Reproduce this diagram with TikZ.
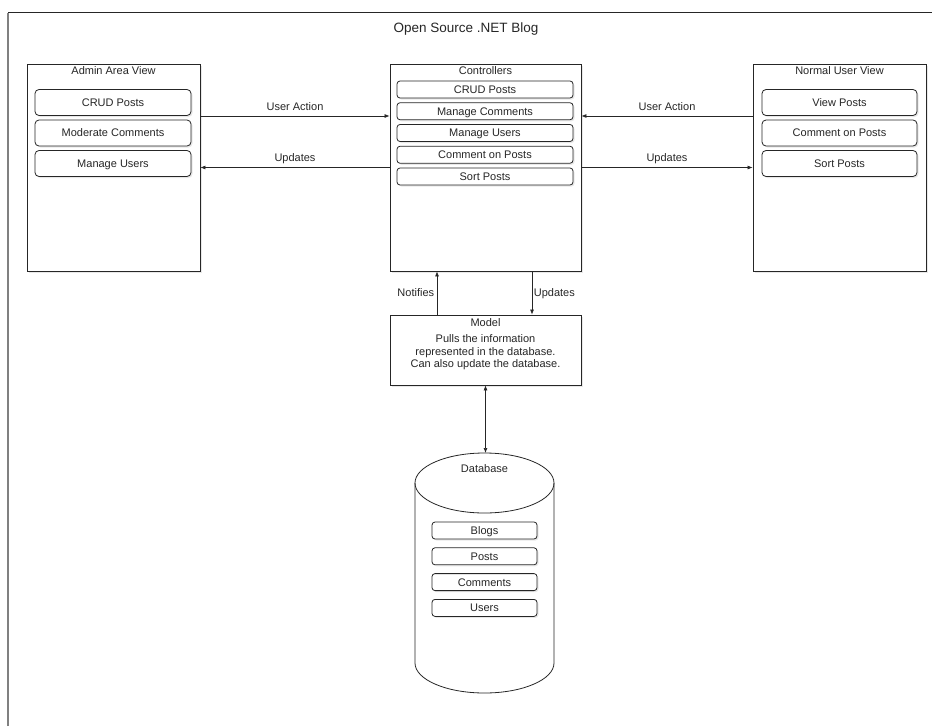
\documentclass[tikz,border=0pt]{standalone}
\usepackage{fontspec}
\setmainfont{Liberation Sans}
\usetikzlibrary{arrows.meta,shadows}
\tikzset{
  >={Latex[length=5pt,width=4pt]},
  lbl/.style={text height=9.5pt,text depth=1.6pt,inner sep=1pt},
  box/.style={draw=black!85,line width=0.8pt,fill=white,inner sep=0pt,
    drop shadow={opacity=0.18,shadow xshift=1.5pt,shadow yshift=-1.5pt}},
  item/.style={box,lbl,rounded corners=4pt,minimum height=26pt,minimum width=156pt},
  citem/.style={box,lbl,rounded corners=3pt,minimum height=17pt,minimum width=176pt},
  ditem/.style={box,lbl,rounded corners=3pt,minimum height=17pt,minimum width=105pt},
  link/.style={draw=black!85,line width=0.7pt,->},
}
\begin{document}
\begin{tikzpicture}[x=1pt,y=-1pt,font=\fontsize{11}{12.5}\selectfont,text=black!85]
  \useasboundingbox (0,0) rectangle (932,726);
  \draw[gray,line width=1.2pt] (8,726) -- (8,12.5);
  \draw[black!85,line width=0.8pt] (8,12.5) -- (932,12.5);
  \node[font=\fontsize{13.5}{15}\selectfont] (title) at (466,29) {Open Source .NET Blog};
  % views and controllers
  \node[box,minimum width=173pt,minimum height=207pt] (admin) at (113.5,167.5) {};
  \node[lbl] (adminT) at (113.5,71) {Admin Area View};
  \foreach \t [count=\i] in {CRUD Posts,Moderate Comments,Manage Users}
    \node[item] (adm\i) at (113,72+30.5*\i) {\t};
  \node[box,minimum width=173pt,minimum height=207pt] (user) at (839.5,167.5) {};
  \node[lbl] (userT) at (839.5,71) {Normal User View};
  \foreach \t [count=\i] in {View Posts,Comment on Posts,Sort Posts}
    \node[item,minimum width=155pt] (usr\i) at (839.5,72+30.5*\i) {\t};
  \node[box,minimum width=191pt,minimum height=207pt] (ctrl) at (485.5,167.5) {};
  \node[lbl] (ctrlT) at (485.5,71) {Controllers};
  \foreach \t [count=\i] in {CRUD Posts,Manage Comments,Manage Users,Comment on Posts,Sort Posts}
    \node[citem] (ctl\i) at (485,67.75+21.75*\i) {\t};
  \draw[link] ([yshift=51.5pt]admin.east) -- node[lbl,above=3pt]{User Action} ([yshift=51.5pt]ctrl.west);
  \draw[link] (ctrl.west) -- node[lbl,above=3pt]{Updates} (admin.east);
  \draw[link] ([yshift=51.5pt]user.west) -- node[lbl,above=3pt]{User Action} ([yshift=51.5pt]ctrl.east);
  \draw[link] (ctrl.east) -- node[lbl,above=3pt]{Updates} (user.west);
  % model
  \node[box,minimum width=191pt,minimum height=70pt] (model) at (485.5,350) {};
  \node[align=center] (modelT) at (485.5,344.5) {Model\\[3.5pt]Pulls the information\\represented in the database.\\Can also update the database.};
  \draw[link] ([xshift=-48.5pt]model.north) -- node[lbl,left=1.5pt]{Notifies} ([xshift=-48.5pt]ctrl.south);
  \draw[link] ([xshift=46.5pt]ctrl.south) -- node[lbl,right=0.5pt]{Updates} ([xshift=46.5pt]model.north);
  % database
  \draw[black!85,line width=0.8pt] (415,483) -- (415,663) arc[start angle=180,end angle=360,x radius=69.5pt,y radius=30pt] -- (554,483);
  \draw[black!85,line width=0.8pt] (484.5,483) ellipse[x radius=69.5pt,y radius=30pt];
  \coordinate (db) at (484.5,453);
  \node[lbl] (dbT) at (484.5,469) {Database};
  \foreach \t [count=\i] in {Blogs,Posts,Comments,Users}
    \node[ditem] (tbl\i) at (484.5,504.7+25.8*\i) {\t};
  \draw[link,<->] (model.south) -- (model.south |- db);
\end{tikzpicture}
\end{document}
